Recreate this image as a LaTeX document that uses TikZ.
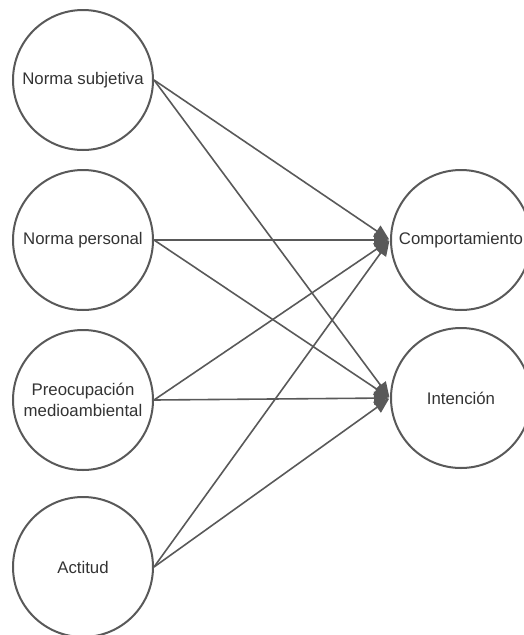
\documentclass[tikz,border=0pt]{standalone}
\usepackage{fontspec}
\setmainfont{Liberation Sans}
\usetikzlibrary{arrows.meta}
\definecolor{linegray}{HTML}{595959}
\definecolor{textgray}{HTML}{333333}
\tikzset{
  var/.style={circle, draw=linegray, line width=2pt, minimum size=140pt, inner sep=0pt,
    text=textgray, font=\fontsize{16.8}{21}\selectfont, align=center},
  link/.style={draw=linegray, line width=1.6pt, -{Triangle[length=15pt,width=13pt]}, shorten >=1pt}
}
\begin{document}
\begin{tikzpicture}[x=1pt,y=-1pt]
\useasboundingbox (0,0) rectangle (524,635);
\node[var] (ns) at (83,80) {Norma subjetiva};
\node[var] (np) at (83,240) {Norma personal};
\node[var] (pm) at (83,400) {Preocupación\\medioambiental};
\node[var] (ac) at (83,567) {Actitud};
\node[var] (co) at (461,240) {Comportamiento};
\node[var] (in) at (461,398) {Intención};
\foreach \s in {ns,np,pm,ac}{
  \draw[link] (\s.east) -- (co.west);
  \draw[link] (\s.east) -- (in.west);
}
\end{tikzpicture}
\end{document}
